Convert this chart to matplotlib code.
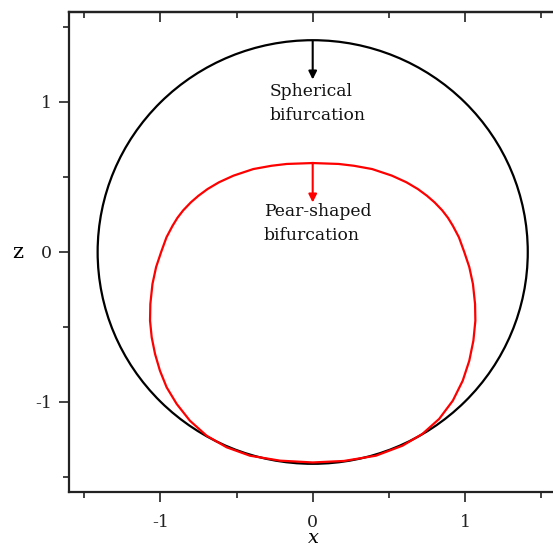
import matplotlib
matplotlib.use("Agg")
import matplotlib.pyplot as plt
from matplotlib.patches import Circle
from matplotlib.ticker import MultipleLocator

# ---- data ----
sphere_radius = 1.412          # spherical shape (black circle)
# pear-shaped contour (right half downward, left half upward)
pear_x = [0.000, 0.170, 0.270, 0.390, 0.520, 0.615, 0.690, 0.750, 0.800, 0.850,
          0.888, 0.920, 0.960, 0.995, 1.028, 1.052, 1.066, 1.068, 1.055, 1.028,
          0.985, 0.920, 0.830, 0.720, 0.590, 0.415, 0.205, 0.000,
          -0.215, -0.412, -0.565, -0.696, -0.806, -0.893, -0.959, -1.003,
          -1.035, -1.057, -1.068, -1.066, -1.052, -1.028, -0.995, -0.960,
          -0.920, -0.888, -0.850, -0.800, -0.750, -0.690, -0.615, -0.520,
          -0.390, -0.270, -0.170, 0.000]
pear_z = [0.593, 0.587, 0.575, 0.553, 0.509, 0.465, 0.420, 0.375, 0.331, 0.278,
          0.228, 0.175, 0.098, 0.000, -0.100, -0.213, -0.347, -0.458, -0.591,
          -0.725, -0.858, -0.991, -1.113, -1.213, -1.291, -1.358, -1.393, -1.403,
          -1.391, -1.358, -1.302, -1.225, -1.125, -1.013, -0.902, -0.791,
          -0.680, -0.569, -0.458, -0.347, -0.213, -0.100, 0.000, 0.098,
          0.175, 0.228, 0.278, 0.331, 0.375, 0.420, 0.465, 0.509,
          0.553, 0.575, 0.587, 0.593]
arrow_black = [(0.0, 1.405), (0.0, 1.15)]
arrow_red = [(0.0, 0.590), (0.0, 0.33)]
label_black = "Spherical\nbifurcation"
label_red = "Pear-shaped\nbifurcation"
major_ticks = [-1, 0, 1]
tick_labels = ["-1", "0", "1"]

plt.rcParams['font.family'] = ['DejaVu Serif']

fig = plt.figure(figsize=(5.53, 5.47), dpi=100)
ax = fig.add_axes([69/553, 55/547, 487.4/553, 480/547])
ax.set_xlim(-1.6, 1.6)
ax.set_ylim(-1.6, 1.6)

ax.add_patch(Circle((0, 0), sphere_radius, fill=False, color='black', lw=1.6))
ax.plot(pear_x, pear_z, color='#ff0000', lw=1.6, solid_joinstyle='round')

ax.annotate("", xy=arrow_black[1], xytext=arrow_black[0],
            arrowprops=dict(arrowstyle='-|>', color='black', lw=1.5,
                            mutation_scale=12, shrinkA=0, shrinkB=0))
ax.annotate("", xy=arrow_red[1], xytext=arrow_red[0],
            arrowprops=dict(arrowstyle='-|>', color='#ff0000', lw=1.5,
                            mutation_scale=12, shrinkA=0, shrinkB=0))

ax.text(-0.285, 1.13, label_black, ha='left', va='top', fontsize=12.3,
        color='#111111', linespacing=1.55)
ax.text(-0.32, 0.33, label_red, ha='left', va='top', fontsize=12.3,
        color='#111111', linespacing=1.55)

for s in ['left', 'bottom', 'top']:
    ax.spines[s].set_linewidth(1.6)
    ax.spines[s].set_color('#222222')
ax.spines['right'].set_visible(False)

ax.set_xticks(major_ticks)
ax.set_xticklabels(tick_labels)
ax.set_yticks(major_ticks)
ax.set_yticklabels(tick_labels)
ax.xaxis.set_minor_locator(MultipleLocator(0.5))
ax.yaxis.set_minor_locator(MultipleLocator(0.5))
ax.tick_params(which='major', direction='out', length=7.5, width=1.2,
               labelsize=12.5, colors='#222222')
ax.tick_params(which='minor', direction='out', length=4.5, width=1.2,
               colors='#222222')
ax.tick_params(axis='x', pad=8)
ax.tick_params(axis='y', pad=5)

sec = ax.secondary_xaxis('top')
sec.set_xticks(major_ticks)
sec.xaxis.set_minor_locator(MultipleLocator(0.5))
sec.tick_params(which='major', direction='in', length=7.5, width=1.2,
                labeltop=False, colors='#222222')
sec.tick_params(which='minor', direction='in', length=4, width=1.2,
                colors='#222222')
sec.spines['top'].set_linewidth(1.6)
sec.spines['top'].set_color('#222222')

ax.set_xlabel("x", fontsize=14, style='italic')
ax.xaxis.set_label_coords(0.501, -0.078)
ax.xaxis.label.set_va('top')
ax.set_ylabel("z", fontsize=15, rotation=0, va='center')
ax.yaxis.set_label_coords(-0.105, 0.5)

fig.savefig("out.png", dpi=100)
